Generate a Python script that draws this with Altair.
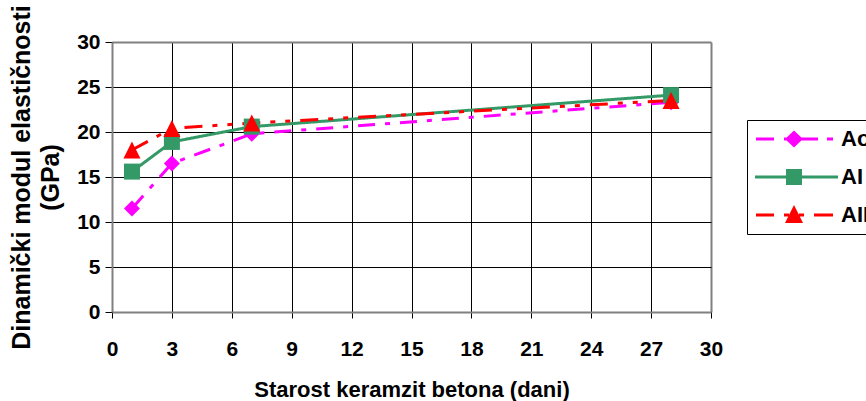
import altair as alt
import pandas as pd

# ---- data ----
days = [1, 3, 7, 28]
series_names = ["Ao", "AI", "AII"]
ao_values = [11.5, 16.5, 19.8, 23.3]
ai_values = [15.6, 18.9, 20.6, 24.1]
aii_values = [18.0, 20.4, 21.0, 23.5]
x_ticks = [0, 3, 6, 9, 12, 15, 18, 21, 24, 27, 30]
y_ticks = [0, 5, 10, 15, 20, 25, 30]

x_title = "Starost keramzit betona (dani)"
y_title = ["Dinamički modul elastičnosti", "(GPa)"]

# ---- styles ----
colors = ["#FF00FF", "#339966", "#FF0000"]
dashes = [[17, 10, 5, 10], [1, 0], [18, 10, 5, 10, 5, 10]]
marker_shapes = ["diamond", "square", "M0,-1L1,1L-1,1Z"]
marker_sizes = [256, 256, 289]
# legend symbols: line segment with marker (units are pixels, symbol size 4)
legend_paths = [
    "M-10,-1.5H8V1.5H-10Z M18,-1.5H23V1.5H18Z M33,-1.5H52V1.5H33Z M61,-1.5H67V1.5H61Z M28,-8.5L37,0L28,8.5L19,0Z",
    "M-11,-1.5H72V1.5H-11Z M20,-8H36V8H20Z",
    "M-10,-1.5H8V1.5H-10Z M18,-1.5H23V1.5H18Z M33,-1.5H38V1.5H33Z M48,-1.5H67V1.5H48Z M28,-10L37,8L19,8Z",
]
FONT = "Liberation Sans"

rows = []
for name, vals in zip(series_names, [ao_values, ai_values, aii_values]):
    for d, v in zip(days, vals):
        rows.append({"series": name, "day": d, "value": v})
df = pd.DataFrame(rows)

grid_color = {"condition": {"test": "datum.value === 30", "value": "#808080"}, "value": "#000000"}
grid_width = {"condition": {"test": "datum.value === 30", "value": 2}, "value": 1}

x_enc = alt.X(
    "day:Q",
    scale=alt.Scale(domain=[0, 30], nice=False, zero=False),
    axis=alt.Axis(
        values=x_ticks, format="d", title=x_title,
        labelFont=FONT, labelFontSize=21, labelFontWeight="bold", labelColor="black",
        labelPadding=20, labelFlush=False, labelOverlap=False,
        tickSize=6, tickColor="black", tickWidth=1,
        domainColor="#808080", domainWidth=2,
        grid=True, gridColor=grid_color, gridWidth=grid_width, gridOpacity=1,
        titleFont=FONT, titleFontSize=22, titleFontWeight="bold", titleColor="black",
        titleY=67, titleBaseline="top",
    ),
)
y_enc = alt.Y(
    "value:Q",
    scale=alt.Scale(domain=[0, 30], nice=False, zero=False),
    axis=alt.Axis(
        values=y_ticks, format="d", title=y_title,
        labelFont=FONT, labelFontSize=21, labelFontWeight="bold", labelColor="black",
        labelPadding=5, labelFlush=False, labelOverlap=False,
        tickSize=7, tickColor="black", tickWidth=1,
        domainColor="#808080", domainWidth=2,
        grid=True, gridColor=grid_color, gridWidth=grid_width, gridOpacity=1,
        titleFont=FONT, titleFontSize=25, titleFontWeight="bold", titleColor="black",
        titleLineHeight=29, titleAngle=270, titleAlign="center", titleBaseline="middle",
        titleX=-91, titleY=135,
    ),
)

color_scale = alt.Scale(domain=series_names, range=colors)

leg = alt.Legend(
    orient="none", legendX=635, legendY=78, direction="vertical", title=None,
    labelFont=FONT, labelFontSize=22, labelFontWeight="bold", labelColor="black",
    symbolSize=4, symbolStrokeWidth=0, symbolOpacity=1, symbolOffset=0,
    labelOffset=64, rowPadding=16, padding=8,
    strokeColor="#000000", fillColor="white",
)

# invisible layer that only carries the legend (line + marker symbols)
legend_layer = alt.Chart(df).mark_point(filled=True, opacity=0, size=4).encode(
    x=x_enc, y=y_enc,
    color=alt.Color("series:N", scale=color_scale, legend=leg),
    shape=alt.Shape("series:N", scale=alt.Scale(domain=series_names, range=legend_paths), legend=leg),
)

lines = alt.Chart(df).mark_line(strokeWidth=3).encode(
    x=x_enc, y=y_enc,
    color=alt.Color("series:N", scale=color_scale, legend=None),
    strokeDash=alt.StrokeDash("series:N", scale=alt.Scale(domain=series_names, range=dashes), legend=None),
    order="day:Q",
)

point_layers = []
for name, shp, sz in zip(series_names, marker_shapes, marker_sizes):
    point_layers.append(
        alt.Chart(df).transform_filter(alt.datum.series == name).mark_point(
            filled=True, shape=shp, size=sz, opacity=1
        ).encode(
            x=x_enc, y=y_enc,
            color=alt.Color("series:N", scale=color_scale, legend=None),
        )
    )

chart = alt.layer(legend_layer, lines, *point_layers).properties(
    width=599, height=270,
    padding={"left": 112, "top": 42, "right": 155, "bottom": 89},
    autosize=alt.AutoSizeParams(type="none"),
).configure_view(
    stroke="#808080", strokeWidth=2,
).configure(background="white")

chart.save("out.html", embed_options={"renderer": "svg", "actions": False})
